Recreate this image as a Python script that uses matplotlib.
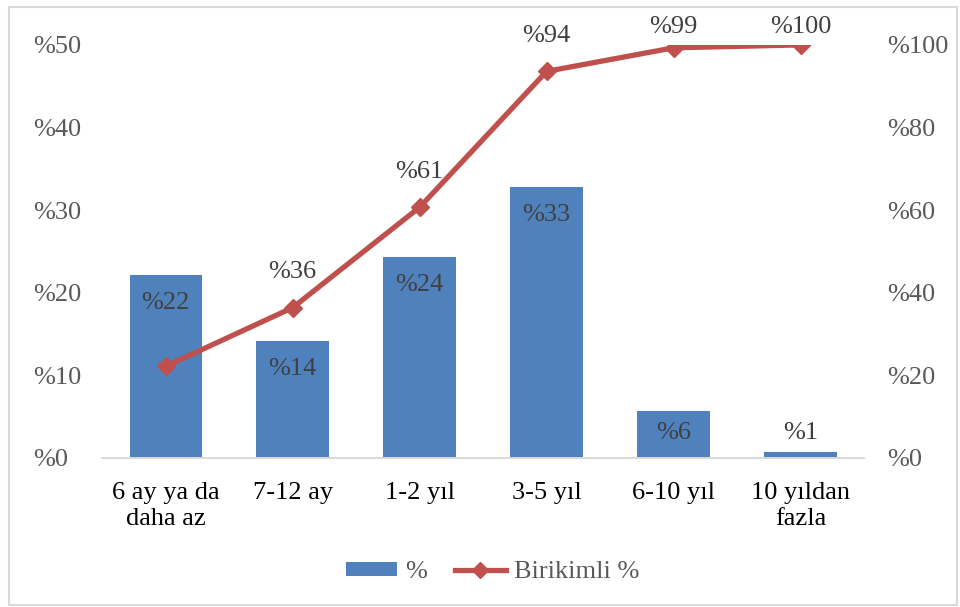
import matplotlib
matplotlib.use("Agg")
import matplotlib.pyplot as plt
from matplotlib.lines import Line2D
from matplotlib.patches import Patch, Rectangle

plt.rcParams['font.family'] = ['Liberation Serif', 'DejaVu Serif']

categories = ["6 ay ya da\ndaha az", "7-12 ay", "1-2 yıl", "3-5 yıl", "6-10 yıl", "10 yıldan\nfazla"]
share = [22.2, 14.2, 24.3, 32.8, 5.7, 0.7]
share_labels = ["%22", "%14", "%24", "%33", "%6", "%1"]
cumulative = [22.2, 36.4, 60.7, 93.6, 99.3, 100.0]
cumulative_labels = ["%22", "%36", "%61", "%94", "%99", "%100"]
left_ticks = [0, 10, 20, 30, 40, 50]
left_tick_labels = ["%0", "%10", "%20", "%30", "%40", "%50"]
right_ticks = [0, 20, 40, 60, 80, 100]
right_tick_labels = ["%0", "%20", "%40", "%60", "%80", "%100"]

BAR = "#4F81BD"
LINE = "#C0504D"
TICK = "#595959"
LABEL = "#404040"
FS = 19

fig = plt.figure(figsize=(9.6, 6.07), dpi=100)
ax = fig.add_axes([0.1065, 0.2455, 0.7935, 0.6805])
ax2 = ax.twinx()

x = list(range(len(categories)))
ax.bar(x, share, width=0.57, color=BAR, zorder=2)
ax.set_xlim(-0.5, len(categories) - 0.5)
ax.set_ylim(0, 50)
ax.set_yticks(left_ticks)
ax.set_yticklabels(left_tick_labels, ha='left')
ax.tick_params(axis='y', length=0, pad=50, labelsize=FS, labelcolor=TICK)
ax.set_xticks(x)
ax.set_xticklabels(categories, fontsize=FS, color='black', linespacing=1.25)
ax.tick_params(axis='x', length=0, pad=17)

# value labels just inside the bar top, kept clear of the baseline for short bars
for xi, v, lab in zip(x, share, share_labels):
    ax.text(xi, max(v - 3.4, 3.0), lab, ha='center', va='center',
            fontsize=FS, color=LABEL, zorder=3)

ax2.plot(x, cumulative, color=LINE, lw=3.8, marker='D', markersize=9,
         solid_capstyle='round', zorder=4)
ax2.set_ylim(0, 100)
ax2.set_yticks(right_ticks)
ax2.set_yticklabels(right_tick_labels)
ax2.tick_params(axis='y', length=0, pad=16.5, labelsize=FS, labelcolor=TICK)

# the first cumulative value equals the first bar's value and shares its label
for xi, v, lab in list(zip(x, cumulative, cumulative_labels))[1:]:
    ax2.text(xi, min(v + 8.6, 104.4), lab, ha='center', va='center',
             fontsize=FS, color=LABEL, clip_on=False)

for a in (ax, ax2):
    for side in ('top', 'left', 'right'):
        a.spines[side].set_visible(False)
    a.spines['bottom'].set_color('#D9D9D9')
    a.spines['bottom'].set_linewidth(1.2)
ax.set_zorder(1)
ax2.set_zorder(2)
ax.patch.set_visible(False)

handles = [Patch(facecolor=BAR, edgecolor='none', label='%'),
           Line2D([0], [0], color=LINE, lw=3.8, marker='D', markersize=8, label='Birikimli %')]
leg = fig.legend(handles=handles, loc='center', bbox_to_anchor=(0.513, 0.057), ncol=2,
                 frameon=False, fontsize=FS, handlelength=1.95, handleheight=0.45,
                 columnspacing=1.05, handletextpad=0.3)
for t in leg.get_texts():
    t.set_color(TICK)

fig.patches.append(Rectangle((0.009, 0.003), 0.988, 0.986, transform=fig.transFigure,
                             fill=False, edgecolor='#D9D9D9', lw=1.5))

fig.savefig("out.png", dpi=100)
